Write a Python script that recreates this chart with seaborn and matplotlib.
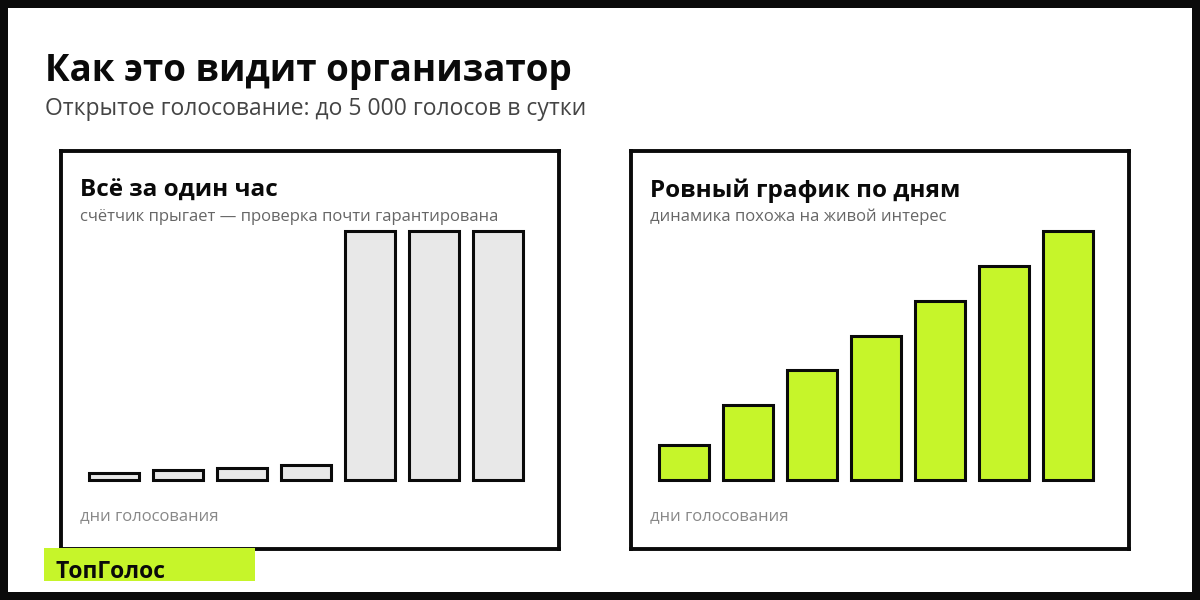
import pandas as pd
import seaborn as sns
import matplotlib.pyplot as plt
from matplotlib.patches import Rectangle

# Data: votes per day, two scenarios
days = ['1', '2', '3', '4', '5', '6', '7']
votes_burst = [150, 200, 250, 300, 5000, 5000, 5000]
votes_even = [700, 1500, 2200, 2900, 3600, 4300, 5000]
vote_cap = 5000

LIME = '#c6f52a'
GRAY_BAR = '#e8e8e8'
INK = '#0a0a0a'

sns.set_theme(style='white')
plt.rcParams['font.family'] = ['Open Sans', 'DejaVu Sans']

W, H = 1200, 600
fig = plt.figure(figsize=(12, 6), dpi=100)
fig.patch.set_facecolor(INK)


def fx(px):
    return px / W


def fy(py):
    return 1 - py / H


# white canvas inside the dark frame
fig.patches.append(Rectangle((fx(8), fy(592)), fx(1184), 584 / H, transform=fig.transFigure,
                             facecolor='white', edgecolor='none', zorder=-5))

fig.text(fx(45), fy(81), 'Как это видит организатор', fontsize=26.5, fontweight='bold',
         color=INK, ha='left', va='baseline')
fig.text(fx(45), fy(115), 'Открытое голосование: до 5 000 голосов в сутки', fontsize=16.5,
         color='#444444', ha='left', va='baseline')


def draw_panel(left, values, color, title, subtitle):
    # frame of the card
    frame = fig.add_axes([fx(left), fy(549), fx(498), 398 / H])
    frame.set_xticks([])
    frame.set_yticks([])
    frame.set_facecolor('white')
    for s in frame.spines.values():
        s.set_visible(True)
        s.set_linewidth(2.8)
        s.set_color(INK)

    fig.text(fx(left + 19), fy(197), title, fontsize=17.5, fontweight='bold',
             color=INK, ha='left', va='baseline')
    fig.text(fx(left + 19), fy(221), subtitle, fontsize=12, color='#666666',
             ha='left', va='baseline')
    fig.text(fx(left + 19), fy(520), 'дни голосования', fontsize=12, color='#888888',
             ha='left', va='baseline')

    ax = fig.add_axes([fx(left + 21), fy(480), fx(448), 249 / H])
    df = pd.DataFrame({'day': days, 'votes': values})
    sns.barplot(data=df, x='day', y='votes', color=color, edgecolor=INK,
                linewidth=2.2, width=0.78, saturation=1, ax=ax)
    for p in ax.patches:
        p.set_clip_on(False)
    ax.set_xlim(-0.5, len(days) - 0.5)
    ax.set_ylim(0, vote_cap)
    ax.axis('off')


draw_panel(61, votes_burst, GRAY_BAR, 'Всё за один час',
           'счётчик прыгает — проверка почти гарантирована')
draw_panel(631, votes_even, LIME, 'Ровный график по дням',
           'динамика похожа на живой интерес')

# brand tag
fig.patches.append(Rectangle((fx(44), fy(581)), fx(211), 33 / H, transform=fig.transFigure,
                             facecolor=LIME, edgecolor='none', zorder=5))
fig.text(fx(56), fy(578), 'ТопГолос', fontsize=16.5, fontweight='bold', color=INK,
         ha='left', va='baseline', zorder=6)

fig.savefig('out.png', dpi=100, facecolor=fig.get_facecolor())
